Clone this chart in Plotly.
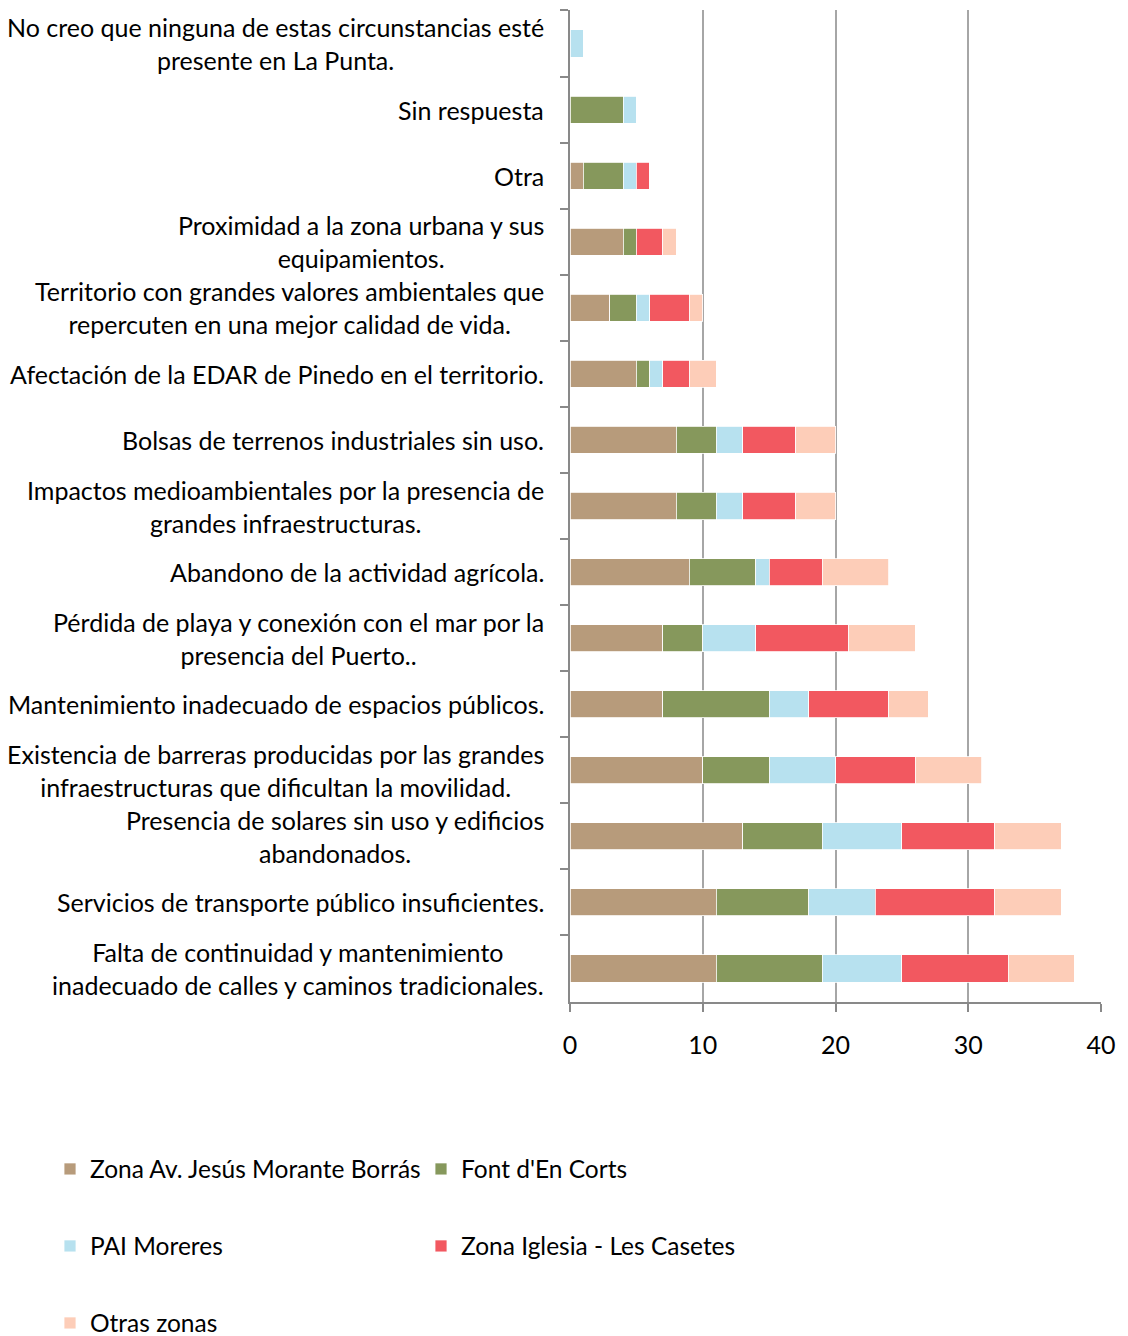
import plotly.graph_objects as go

categories = [
    "No creo que ninguna de estas circunstancias esté<br>presente en La Punta.",
    "Sin respuesta",
    "Otra",
    "Proximidad a la zona urbana y sus<br>equipamientos.",
    "Territorio con grandes valores ambientales que<br>repercuten en una mejor calidad de vida.",
    "Afectación de la EDAR de Pinedo en el territorio.",
    "Bolsas de terrenos industriales sin uso.",
    "Impactos medioambientales por la presencia de<br>grandes infraestructuras.",
    "Abandono de la actividad agrícola.",
    "Pérdida de playa y conexión con el mar por la<br>presencia del Puerto..",
    "Mantenimiento inadecuado de espacios públicos.",
    "Existencia de barreras producidas por las grandes<br>infraestructuras que dificultan la movilidad.",
    "Presencia de solares sin uso y edificios<br>abandonados.",
    "Servicios de transporte público insuficientes.",
    "Falta de continuidad y mantenimiento<br>inadecuado de calles y caminos tradicionales.",
]

zona_av = [0, 0, 1, 4, 3, 5, 8, 8, 9, 7, 7, 10, 13, 11, 11]
font_en_corts = [0, 4, 3, 1, 2, 1, 3, 3, 5, 3, 8, 5, 6, 7, 8]
pai_moreres = [1, 1, 1, 0, 1, 1, 2, 2, 1, 4, 3, 5, 6, 5, 6]
zona_iglesia = [0, 0, 1, 2, 3, 2, 4, 4, 4, 7, 6, 6, 7, 9, 8]
otras_zonas = [0, 0, 0, 1, 1, 2, 3, 3, 5, 5, 3, 5, 5, 5, 5]

series_names = ["Zona Av. Jesús Morante Borrás", "Font d'En Corts", "PAI Moreres",
                "Zona Iglesia - Les Casetes", "Otras zonas"]
series_values = [zona_av, font_en_corts, pai_moreres, zona_iglesia, otras_zonas]
colors = ["#B79B7B", "#86985C", "#B7E1EF", "#F25860", "#FDCDB8"]

x_ticks = [0, 10, 20, 30, 40]

FONT = "Lato"
FS = 25
LFS = 24.5

# the page body adds an 8px offset, so the figure is 8px smaller
W, H = 1120, 1328
ml, mr, mt, mb = 562, 27, 2, 334

# legend placement (figure pixels from top-left)
leg_pos = [(42, 1161), (413, 1161), (42, 1238), (413, 1238), (42, 1315)]
leg_ids = ["legend", "legend2", "legend3", "legend4", "legend5"]

fig = go.Figure()
for name, vals, col, lg in zip(series_names, series_values, colors, leg_ids):
    fig.add_trace(go.Bar(
        y=categories, x=vals, name=name, orientation="h",
        marker=dict(color=col, line=dict(color="white", width=0.8)),
        legend=lg, showlegend=True,
    ))

for c in categories:
    fig.add_annotation(
        x=0, xref="paper", y=c, yref="y", text=c, showarrow=False,
        xanchor="right", yanchor="middle", align="center", xshift=-24,
        font=dict(family=FONT, size=FS, color="black"),
    )

legends = {}
for lg, (px, py) in zip(leg_ids, leg_pos):
    legends[lg] = dict(orientation="h", xref="container", yref="container",
                       x=px / W, y=1 - py / H, xanchor="left", yanchor="middle",
                       font=dict(family=FONT, size=LFS, color="black"),
                       bgcolor="rgba(0,0,0,0)", visible=True)

fig.update_layout(
    width=W, height=H,
    margin=dict(l=ml, r=mr, t=mt, b=mb),
    showlegend=True,
    barmode="stack", bargap=0.59,
    plot_bgcolor="white", paper_bgcolor="white",
    font=dict(family=FONT, size=FS, color="black"),
    xaxis=dict(range=[0, 40], tickvals=x_ticks, showgrid=True, gridcolor="#A6A6A6",
               gridwidth=2, showline=True, linecolor="#898989", linewidth=2,
               ticks="outside", ticklen=8, tickcolor="#898989", tickwidth=2,
               zeroline=False, automargin=False, ticklabelstandoff=12,
               tickfont=dict(family=FONT, size=FS, color="black")),
    yaxis=dict(categoryorder="array", categoryarray=categories, autorange="reversed",
               showticklabels=False, showline=True, linecolor="#898989", linewidth=2,
               ticks="outside", ticklen=8, tickcolor="#898989", tickwidth=2,
               tickson="boundaries", showgrid=False, zeroline=False, automargin=False),
    **legends,
)

fig.write_html("out.html")
